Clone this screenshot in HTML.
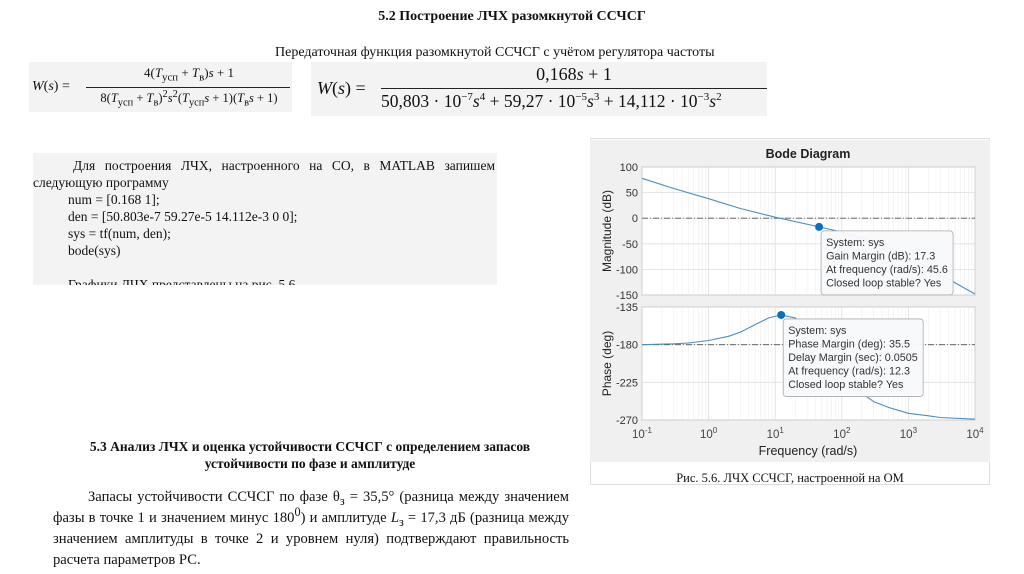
<!DOCTYPE html>
<html><head><meta charset="utf-8">
<style>
body{margin:0;width:1024px;height:574px;background:#fff;position:relative;overflow:hidden;font-family:"Liberation Serif","Noto Serif CJK SC",serif;color:#111}
.a{position:absolute}
.h{font-weight:bold;font-size:14px}
.t{font-size:13.5px;line-height:17px}
.box{background:#f3f3f3}
sub,sup{line-height:0}
</style></head><body>
<div class="a h" style="left:0;width:1024px;top:9px;text-align:center">5.2 Построение ЛЧХ разомкнутой ССЧСГ</div>
<div class="a t" style="left:275px;top:44px;font-size:14px">Передаточная функция разомкнутой ССЧСГ с учётом регулятора частоты</div>

<div class="a box" style="left:29px;top:62px;width:263px;height:50px;font-size:14px">
 <div class="a" style="left:3px;top:17px"><i>W</i>(<i>s</i>) =</div>
 <div class="a" style="left:60px;top:3px;width:200px;text-align:center;font-size:13px">4(<i>T</i><sub>усп</sub> + <i>T</i><sub>в</sub>)<i>s</i> + 1</div>
 <div class="a" style="left:57px;top:25px;width:204px;border-top:1px solid #222"></div>
 <div class="a" style="left:55px;top:29px;width:210px;text-align:center;font-size:12.5px;white-space:nowrap">8(<i>T</i><sub>усп</sub> + <i>T</i><sub>в</sub>)<sup>2</sup><i>s</i><sup>2</sup>(<i>T</i><sub>усп</sub><i>s</i> + 1)(<i>T</i><sub>в</sub><i>s</i> + 1)</div>
</div>
<div class="a box" style="left:311px;top:62px;width:456px;height:54px;font-size:18px;font-family:'Liberation Serif',serif">
 <div class="a" style="left:6px;top:16px"><i>W</i>(<i>s</i>) =</div>
 <div class="a" style="left:70px;top:2px;width:386px;text-align:center">0,168<i>s</i> + 1</div>
 <div class="a" style="left:70px;top:26px;width:386px;border-top:1px solid #222"></div>
 <div class="a" style="left:70px;top:29px;white-space:nowrap;font-size:17.5px">50,803 · 10<sup style="font-size:11px">−7</sup><i>s</i><sup style="font-size:11px">4</sup> + 59,27 · 10<sup style="font-size:11px">−5</sup><i>s</i><sup style="font-size:11px">3</sup> + 14,112 · 10<sup style="font-size:11px">−3</sup><i>s</i><sup style="font-size:11px">2</sup></div>
</div>

<div class="a box t" style="left:33px;top:153px;width:464px;height:132px;overflow:hidden">
 <div style="padding:4px 2px 0 0;text-indent:40px;text-align:justify;text-align-last:justify;width:462px">Для построения ЛЧХ, настроенного на СО, в MATLAB запишем</div>
 <div>следующую программу</div>
 <div style="padding-left:35px">num = [0.168 1];<br>den = [50.803e-7 59.27e-5 14.112e-3 0 0];<br>sys = tf(num, den);<br>bode(sys)<br><br>Графики ЛЧХ представлены на рис. 5.6.</div>
</div>

<div class="a h" style="left:40px;width:540px;top:438px;text-align:center;font-size:13.5px;line-height:17px">5.3 Анализ ЛЧХ и оценка устойчивости ССЧСГ с определением запасов<br>устойчивости по фазе и амплитуде</div>
<div class="a t" style="left:53px;top:487px;width:516px;text-align:justify;font-size:14.6px;line-height:21px">
 <span style="padding-left:35px"></span>Запасы устойчивости ССЧСГ по фазе θ<sub>з</sub> = 35,5° (разница между значением фазы в точке 1 и значением минус 180<sup>0</sup>) и амплитуде <i>L</i><sub>з</sub> = 17,3 дБ (разница между значением амплитуды в точке 2 и уровнем нуля) подтверждают правильность расчета параметров РС.</div>

<div class="a" style="left:590px;top:138px;width:400px;height:347px;border:1px solid #ddd;box-sizing:border-box"></div>
<svg class="a" id="bode" style="left:590px;top:140px" width="400" height="322" font-family="Liberation Sans, sans-serif"></svg>
<div class="a" style="left:590px;width:400px;top:471px;text-align:center;font-size:12.5px">Рис. 5.6. ЛЧХ ССЧСГ, настроенной на ОМ</div>

<script>
const magFreq=[0.1,0.3,1,3,10,45.6,100,300,1000,3000,10000];
const magVals=[78,58,38,19,2,-17,-27,-46,-75,-110,-148];
const phFreq=[0.1,0.3,0.5,1,2,3,5,8,12.3,20,50,100,200,300,500,1000,2000,3000,10000];
const phVals=[-180,-179,-178,-175,-170,-165,-156,-148,-144.5,-148,-172,-215,-238,-248,-255,-262,-265,-267,-269];
const magTicks=[100,50,0,-50,-100,-150];
const phTicks=[-135,-180,-225,-270];
const decades=[-1,0,1,2,3,4];
const gm={f:45.6,v:-17,lines:["System: sys","Gain Margin (dB): 17.3","At frequency (rad/s): 45.6","Closed loop stable? Yes"]};
const pm={f:12.3,v:-144.5,lines:["System: sys","Phase Margin (deg): 35.5","Delay Margin (sec): 0.0505","At frequency (rad/s): 12.3","Closed loop stable? Yes"]};

const svg=document.getElementById('bode');const NS='http://www.w3.org/2000/svg';
function mk(t,a,p){const e=document.createElementNS(NS,t);for(const k in a)e.setAttribute(k,a[k]);(p||svg).appendChild(e);return e;}
const X0=52,X1=385;
const x=f=>X0+(Math.log10(f)+1)/5*(X1-X0);
const yM=v=>27+(100-v)/250*128;
const yP=v=>167+(-135-v)/135*113;
svg.style.background='#f0f0f0';
let t=mk('text',{x:218,y:18,'text-anchor':'middle','font-size':12.5,'font-weight':'bold',fill:'#222'});t.textContent='Bode Diagram';

function axes(top,bot,ticks,yf,name,label){
 const g=mk('g',{});
 mk('rect',{x:X0,y:top,width:X1-X0,height:bot-top,fill:'#fff',stroke:'#888','stroke-width':0.8},g);
 decades.forEach(d=>{if(d<4)for(let k=2;k<10;k++){const xx=x(k*Math.pow(10,d));mk('line',{x1:xx,x2:xx,y1:top,y2:bot,stroke:'#eee','stroke-width':0.6},g);}
  const xx=x(Math.pow(10,d));mk('line',{x1:xx,x2:xx,y1:top,y2:bot,stroke:'#ddd','stroke-width':0.8},g);});
 ticks.forEach(v=>{const yy=yf(v);mk('line',{x1:X0,x2:X1,y1:yy,y2:yy,stroke:'#ddd','stroke-width':0.8},g);
  const tx=mk('text',{x:X0-4,y:yy+4,'text-anchor':'end','font-size':11,fill:'#333'},g);tx.textContent=v;});
 const l=mk('text',{x:0,y:0,'text-anchor':'middle','font-size':12,fill:'#222',transform:`translate(21,${(top+bot)/2}) rotate(-90)`},g);l.textContent=label;
}
axes(27,155,magTicks,yM,'magnitude-axes','Magnitude (dB)');
axes(167,280,phTicks,yP,'phase-axes','Phase (deg)');
mk('line',{x1:X0,x2:X1,y1:yM(0),y2:yM(0),stroke:'#555','stroke-dasharray':'6 2 1 2','stroke-width':0.8});
mk('line',{x1:X0,x2:X1,y1:yP(-180),y2:yP(-180),stroke:'#555','stroke-dasharray':'6 2 1 2','stroke-width':0.8});
function curve(fs,vs,yf,name){const p=mk('path',{d:fs.map((f,i)=>(i?'L':'M')+x(f).toFixed(1)+','+yf(vs[i]).toFixed(1)).join(''),fill:'none',stroke:'#4a8ec2','stroke-width':1.1,'stroke-linejoin':'round'});
 }
curve(magFreq,magVals,yM,'magnitude-curve');curve(phFreq,phVals,yP,'phase-curve');
decades.forEach(d=>{const tx=mk('text',{x:x(Math.pow(10,d)),y:298,'text-anchor':'middle','font-size':11.5,fill:'#444'});
 tx.innerHTML='10<tspan dy="-5" font-size="8">'+d+'</tspan>';});
t=mk('text',{x:218,y:315,'text-anchor':'middle','font-size':12.5,fill:'#222'});t.textContent='Frequency  (rad/s)';

function tip(m,yf,w,name){const cx=x(m.f),cy=yf(m.v);
 const g=mk('g',{});
 mk('circle',{cx:cx,cy:cy,r:4,fill:'#0a6fc0'},g);
 const h=m.lines.length*13.5+10;
 mk('rect',{x:cx+2,y:cy+4,width:w,height:h,rx:3,fill:'#f8f9fb','fill-opacity':0.96,stroke:'#aaa','stroke-width':0.8},g);
 m.lines.forEach((s,i)=>{const tx=mk('text',{x:cx+7,y:cy+19+i*13.5,'font-size':10.8,fill:'#333'},g);tx.textContent=s;});}
tip(gm,yM,132,'gain-margin-datatip');
tip(pm,yP,140,'phase-margin-datatip');
</script>
</body></html>
